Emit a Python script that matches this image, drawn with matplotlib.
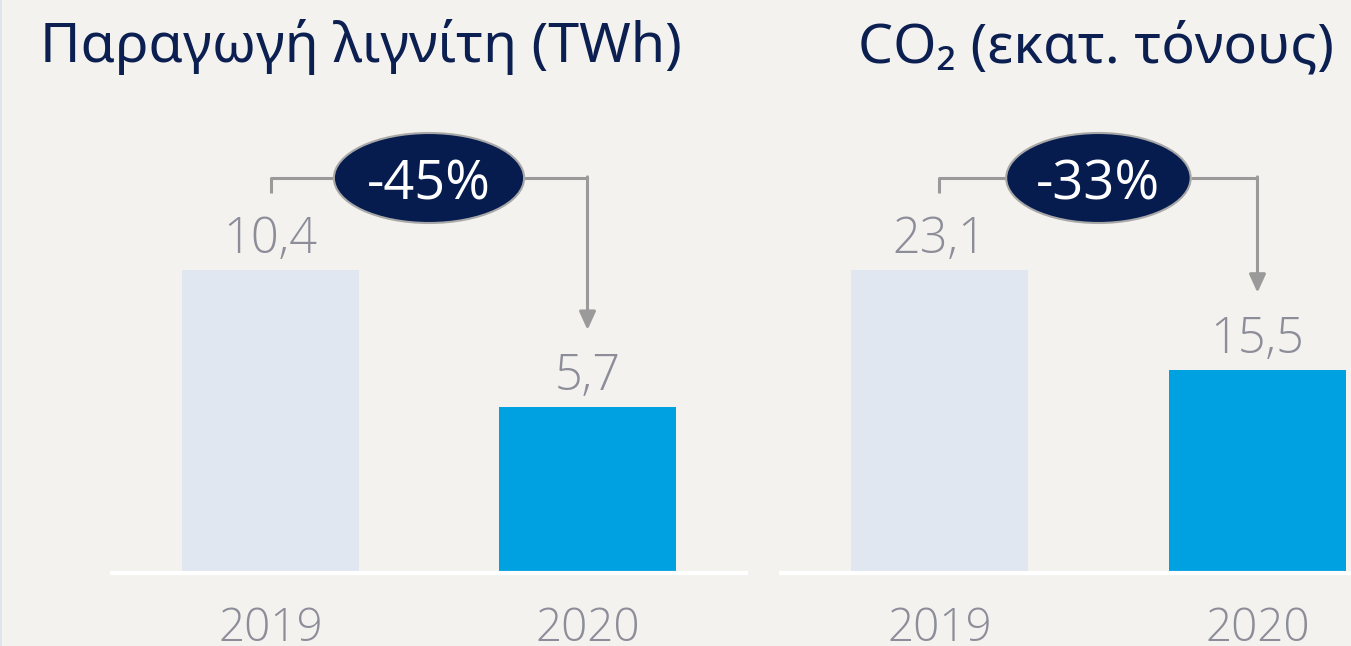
import matplotlib
matplotlib.use("Agg")
import matplotlib.pyplot as plt
import matplotlib.transforms as mtransforms
from matplotlib.patches import Ellipse, Rectangle

# ---- data ----
years = ["2019", "2020"]
lignite_twh = [10.4, 5.7]
co2_mt = [23.1, 15.5]
lignite_labels = ["10,4", "5,7"]
co2_labels = ["23,1", "15,5"]
lignite_change = "-45%"
co2_change = "-33%"
title_left = "Παραγωγή λιγνίτη (TWh)"
title_right_a = "CO₂ (εκατ. τόνους)"

# ---- style ----
BG = "#f3f2ef"
NAVY = "#0b1f51"
ELL = "#061c4e"
GREY_TXT = "#8c8d99"
LINE = "#9a9a9a"
C2019 = "#e0e7f1"
C2020 = "#00a1e0"
TITLE_FONT = ["Noto Sans", "DejaVu Sans"]
NUM_FONT = ["Open Sans", "DejaVu Sans"]

W, H = 1351, 646
fig = plt.figure(figsize=(W / 100, H / 100), dpi=100, facecolor=BG)

# thin light edge on the left
fig.add_artist(Rectangle((0, 0), 2 / W, 1, transform=fig.transFigure,
                         facecolor="#dde5ef", edgecolor="none"))

base_px = 573
top_px = 270  # pixel row of the 2019 bar top


def panel(x0, x1, xlim, values, labels, change, ell_w):
    ax = fig.add_axes([x0 / W, (H - base_px) / H, (x1 - x0) / W, base_px / H])
    ax.set_facecolor(BG)
    ymax = values[0] * base_px / (base_px - top_px)
    ax.set_ylim(0, ymax)
    ax.set_xlim(*xlim)
    xs = [0, 1]
    ax.bar(xs, values, width=0.557, color=[C2019, C2020], zorder=2)
    for s in ax.spines.values():
        s.set_visible(False)
    ax.set_xticks([])
    ax.set_yticks([])
    ax.axhline(0, color="white", lw=3, zorder=3, clip_on=False)

    blend = mtransforms.blended_transform_factory(ax.transData, ax.transAxes)
    # value labels
    off = mtransforms.ScaledTranslation(0, 17 / 100, fig.dpi_scale_trans)
    for x, v, lab in zip(xs, values, labels):
        ax.text(x, v, lab, transform=ax.transData + off, ha="center", va="baseline",
                fontsize=35, color=GREY_TXT, family=NUM_FONT, fontweight="light")
    # year labels
    for x, y in zip(xs, years):
        ax.text(x, (base_px - 641) / base_px, y, transform=blend, ha="center",
                va="baseline", fontsize=33, color=GREY_TXT, family=NUM_FONT,
                fontweight="light", clip_on=False)

    # bracket
    yb = (base_px - 178) / base_px
    yst = (base_px - 193) / base_px
    xc = 0.5
    ax.plot([0, 0, xc - ell_w / 2], [yst, yb, yb], transform=blend, color=LINE,
            lw=2.2, clip_on=False, zorder=4, solid_capstyle="butt")
    ax.plot([xc + ell_w / 2, 1], [yb, yb], transform=blend, color=LINE,
            lw=2.2, clip_on=False, zorder=4, solid_capstyle="butt")
    tip = mtransforms.ScaledTranslation(0, 77 / 100, fig.dpi_scale_trans)
    tip_disp = (ax.transData + tip).transform((1, values[1]))
    tip_axes = ax.transAxes.inverted().transform(tip_disp)[1]
    ax.annotate("", xy=(1, tip_axes), xycoords=blend, xytext=(1, yb + 0.002),
                textcoords=blend,
                arrowprops=dict(arrowstyle="-|>,head_length=1.1,head_width=0.5",
                                color=LINE, lw=2.2, shrinkA=0, shrinkB=0),
                annotation_clip=False, zorder=4)
    e = Ellipse((xc, yb), width=ell_w, height=90 / base_px, transform=blend,
                facecolor=ELL, edgecolor="#a8a8a8", lw=1.5, zorder=5, clip_on=False)
    ax.add_patch(e)
    ax.text(xc, yb, change, transform=blend, ha="center", va="center_baseline",
            fontsize=39, color="white", family=NUM_FONT, zorder=6)
    return ax


panel(112, 746, (-0.5, 1.5), lignite_twh, lignite_labels, lignite_change, 0.60)
panel(781, 1351, (-0.498, 1.294), co2_mt, co2_labels, co2_change, 0.58)

fig.text(40 / W, (H - 62) / H, title_left, ha="left", va="baseline",
         fontsize=40, color=NAVY, family=TITLE_FONT)
fig.text(858 / W, (H - 62) / H, title_right_a, ha="left", va="baseline",
         fontsize=40, color=NAVY, family=TITLE_FONT)

fig.savefig("out.png", dpi=100, facecolor=BG)
